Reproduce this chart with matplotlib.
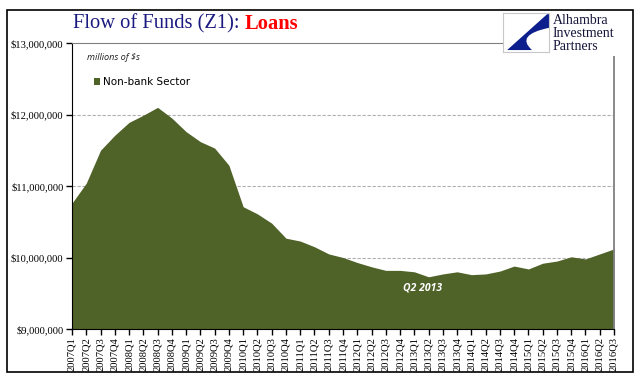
import matplotlib
matplotlib.use("Agg")
from matplotlib import pyplot as plt
from matplotlib.path import Path
from matplotlib.patches import PathPatch, Rectangle
from matplotlib.ticker import FuncFormatter


# quarters 2007Q1 .. 2016Q3
quarters = [f"{y}Q{q}" for y in range(2007, 2017) for q in range(1, 5)][:39]

# non-bank sector loans, millions of $
nonbank = [10760000, 11040000, 11500000, 11710000, 11890000, 11990000, 12100000, 11950000,
           11760000, 11620000, 11530000, 11290000, 10710000, 10610000, 10480000, 10270000,
           10230000, 10150000, 10050000, 10000000, 9930000, 9870000, 9820000, 9820000,
           9800000, 9730000, 9770000, 9800000, 9760000, 9770000, 9810000, 9880000,
           9840000, 9920000, 9950000, 10010000, 9980000, 10050000, 10120000]

y_ticks = [9000000, 10000000, 11000000, 12000000, 13000000]

FILL = "#4F6228"
W, H = 641, 381

fig = plt.figure(figsize=(W / 100, H / 100), dpi=100)
# outer frame
fig.patches.append(Rectangle((7 / W, 1 - 372 / H), 626 / W, 362 / H, transform=fig.transFigure,
                             fill=False, edgecolor="black", linewidth=1.2))

ax = fig.add_axes([72 / W, 1 - 329 / H, 542 / W, 286 / H])
x = list(range(len(quarters)))
ax.fill_between(x, nonbank, 9000000, color=FILL, linewidth=0, zorder=2, label="Non-bank Sector")
ax.set_xlim(0, len(quarters) - 1)
ax.set_ylim(9000000, 13000000)
ax.set_yticks(y_ticks)
ax.yaxis.set_major_formatter(FuncFormatter(lambda v, p: f"${v:,.0f}"))
ax.set_xticks(x)
ax.set_xticklabels(quarters, rotation=90)
for lab in ax.get_xticklabels() + ax.get_yticklabels():
    lab.set_fontfamily("Liberation Serif")
    lab.set_fontsize(7.6)
ax.tick_params(axis="x", length=4, pad=2, width=1)
ax.tick_params(axis="y", length=4, pad=2, width=1)
for yy in y_ticks[1:4]:
    ax.axhline(yy, color="#b0b0b0", linestyle=(0, (3, 1.5)), linewidth=0.8, zorder=1)
ax.spines["left"].set_color("black")
ax.spines["bottom"].set_color("black")
ax.spines["top"].set_color("#808080")
ax.spines["right"].set_color("#808080")
ax.spines["right"].set_linewidth(1.3)

ax.text(0.028, 0.95, "millions of $s", transform=ax.transAxes, fontsize=6.6, style="italic",
        fontfamily="Open Sans", ha="left", va="center", color="#202020")
leg = ax.legend(loc="center left", bbox_to_anchor=(0.04, 0.864), frameon=False, fontsize=7.5,
                handlelength=0.6, handleheight=0.6, handletextpad=0.3, borderaxespad=0,
                borderpad=0)
ax.text(23.2, 9573000, "Q2 2013", color="white", fontsize=7.5, fontweight="bold", style="italic",
        fontfamily="Open Sans", ha="left", va="center", zorder=3)

# title
t1 = fig.text(73 / W, 1 - 24 / H, "Flow of Funds (Z1): ", fontsize=14.8, color="#1a1a80",
              fontfamily="Liberation Serif", va="center", ha="left")
fig.canvas.draw()
bb = t1.get_window_extent()
fig.text(bb.x1 / W, 1 - 24 / H, "Loans", fontsize=14.8, color="#ff0000", fontweight="bold",
         fontfamily="Liberation Serif", va="center", ha="left")

# logo
lax = fig.add_axes([503 / W, 1 - 52 / H, 46 / W, 39 / H], zorder=5)
lax.set_xlim(0, 1)
lax.set_ylim(0, 1)
lax.set_xticks([])
lax.set_yticks([])
for s in lax.spines.values():
    s.set_color("#c8c8c8")
verts = [(0.96, 0.97), (0.09, 0.05), (0.63, 0.05), (0.26, 0.44), (1.0, 0.62), (1.0, 0.97), (0.96, 0.97)]
codes = [Path.MOVETO, Path.LINETO, Path.LINETO, Path.CURVE3, Path.CURVE3, Path.LINETO, Path.CLOSEPOLY]
lax.add_patch(PathPatch(Path(verts, codes), facecolor="#0c1f8c", edgecolor="none"))
fig.patches.append(Rectangle((550 / W, 1 - 56 / H), 80 / W, 44 / H, transform=fig.transFigure,
                             facecolor="white", edgecolor="none", zorder=4))
for txt, yy in zip(["Alhambra", "Investment", "Partners"], [20, 33.5, 47]):
    fig.text(553 / W, 1 - yy / H, txt, fontsize=10, color="#15153a",
             fontfamily="Liberation Serif", va="center", ha="left", zorder=6)

fig.savefig("out.png", dpi=100)
